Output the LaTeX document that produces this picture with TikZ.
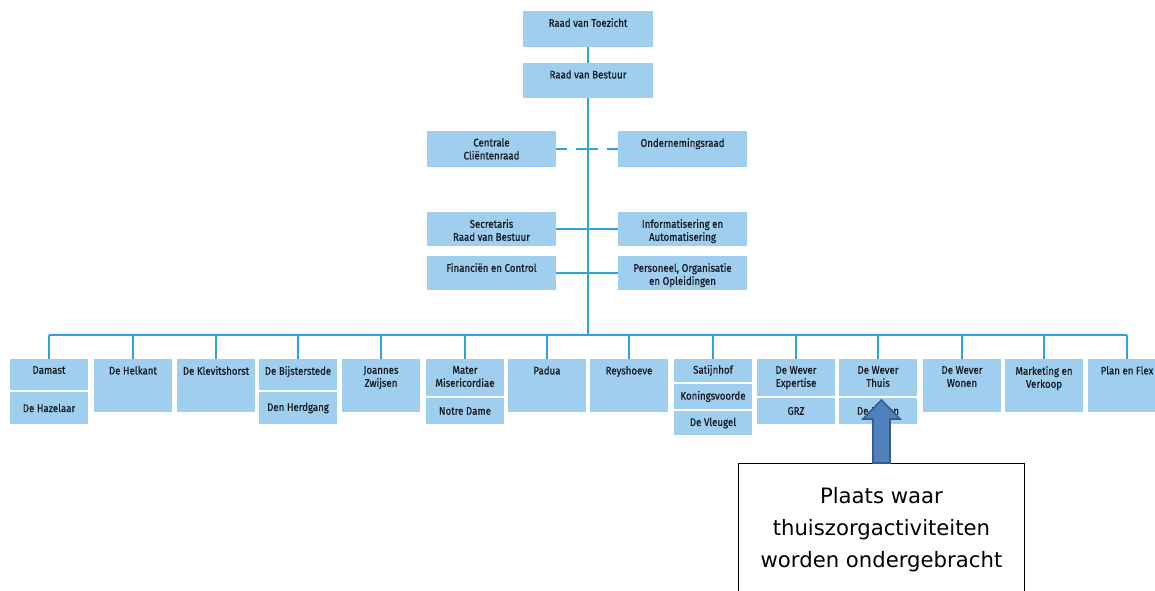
\documentclass[tikz,border=0pt]{standalone}
\usepackage{fontspec}
\setmainfont{Fira Sans}
\newfontfamily\orgfont[FakeStretch=0.88,FakeBold=0.6]{Fira Sans}
\newfontfamily\callfont{DejaVu Sans}
\definecolor{boxfill}{RGB}{160,206,238}
\definecolor{linec}{RGB}{45,163,220}
\definecolor{arrowfill}{RGB}{79,129,189}
\definecolor{arrowdraw}{RGB}{56,93,138}
\definecolor{txtc}{RGB}{20,24,32}
\tikzset{
  orgbox/.style={fill=boxfill, inner sep=0pt, outer sep=0pt, anchor=north west},
  orgtext/.style={font=\orgfont\fontsize{11}{13}\selectfont, text=txtc, align=center, inner sep=0pt},
  conn/.style={draw=linec, line width=2pt},
  callbox/.style={draw=black, line width=0.9pt, fill=white, inner sep=0pt, anchor=north west},
  calltext/.style={font=\callfont\fontsize{21.2}{32}\selectfont, text=black, align=center, inner sep=0pt},
  blockarrow/.style={fill=arrowfill, draw=arrowdraw, line width=1.6pt, line join=miter},
}
% box with text at the top
\newcommand\orgtop[6]{%
  \node[orgbox, minimum width=#4pt, minimum height=#5pt] (#1) at (#2,#3) {};
  \node[orgtext, anchor=north] (#1-t) at ([yshift=-7pt]#1.north) {#6};
}
% box with text in the middle
\newcommand\orgmid[6]{%
  \node[orgbox, minimum width=#4pt, minimum height=#5pt] (#1) at (#2,#3) {};
  \node[orgtext] (#1-t) at (#1.center) {#6};
}
\begin{document}
\begin{tikzpicture}[x=1pt, y=-1pt]
\useasboundingbox (0,0) rectangle (1155,590);
\clip (0,0) rectangle (1155,590);

% top of the chart
\orgtop{rvt}{523}{11}{130}{36}{Raad van Toezicht}
\orgtop{rvb}{523}{63}{130}{35}{Raad van Bestuur}
\orgtop{ccr}{427}{131}{129}{36}{Centrale\\Cliëntenraad}
\orgtop{or}{618}{131}{129}{36}{Ondernemingsraad}
\orgtop{srvb}{427}{212}{129}{34}{Secretaris\\Raad van Bestuur}
\orgtop{ia}{618}{212}{129}{34}{Informatisering en\\Automatisering}
\orgtop{fc}{427}{256}{129}{34}{Financiën en Control}
\orgtop{poo}{618}{256}{129}{34}{Personeel, Organisatie\\en Opleidingen}

% bottom row
\orgtop{damast}{10}{359}{78}{31}{Damast}
\orgmid{hazelaar}{10}{392}{78}{32}{De Hazelaar}
\orgtop{helkant}{94}{359}{78}{53}{De Helkant}
\orgtop{klev}{177}{359}{78}{53}{De Klevitshorst}
\orgtop{bijst}{259}{359}{78}{31}{De Bijsterstede}
\orgmid{herdgang}{259}{392}{78}{32}{Den Herdgang}
\orgtop{joannes}{342}{359}{78}{53}{Joannes\\Zwijsen}
\orgtop{mater}{426}{359}{78}{37}{Mater\\Misericordiae}
\orgmid{notre}{426}{398}{78}{26}{Notre Dame}
\orgtop{padua}{508}{359}{78}{53}{Padua}
\orgtop{reys}{590}{359}{78}{53}{Reyshoeve}
\orgmid{satijn}{674}{359}{78}{23}{Satijnhof}
\orgmid{koning}{674}{384}{78}{25}{Koningsvoorde}
\orgmid{vleugel}{674}{411}{78}{24}{De Vleugel}
\orgtop{expertise}{757}{359}{78}{37}{De Wever\\Expertise}
\orgmid{grz}{757}{398}{78}{26}{GRZ}
\orgtop{thuis}{839}{359}{78}{37}{De Wever\\Thuis}
\orgmid{hoven}{839}{398}{78}{26}{De Hoven}
\orgtop{wonen}{923}{359}{78}{53}{De Wever\\Wonen}
\orgtop{marketing}{1005}{359}{78}{53}{Marketing en\\Verkoop}
\orgtop{plan}{1088}{359}{78}{53}{Plan en Flex}

% connectors
\coordinate (busc) at (588,335);
\draw[conn] (rvt.south) -- (rvb.north);
\draw[conn] (rvb.south) -- (busc);
\draw[conn, dash pattern=on 11pt off 9pt on 22pt off 9pt on 11pt] (ccr.east) -- (or.west);
\draw[conn] (srvb.east) -- (ia.west);
\draw[conn] (fc.east) -- (poo.west);
\draw[conn] (damast.north |- busc) -- (plan.north |- busc);
\foreach \n in {damast,helkant,klev,bijst,joannes,mater,padua,reys,satijn,expertise,thuis,wonen,marketing,plan}
  \draw[conn] (\n.north |- busc) -- (\n.north);

% callout
\node[callbox, minimum width=286pt, minimum height=140pt] (callout) at (738,463) {};
\node[calltext, anchor=north] (callout-t) at ([yshift=-24pt]callout.north)
  {Plaats waar\\thuiszorgactiviteiten\\worden ondergebracht};
\draw[blockarrow] ([xshift=-8.5pt]callout.north) -- ++(0,-44) -- ++(-10,0)
  -- ++(18.5,-19) -- ++(18.5,19) -- ++(-10,0) -- ++(0,44) -- cycle;
\end{tikzpicture}
\end{document}
